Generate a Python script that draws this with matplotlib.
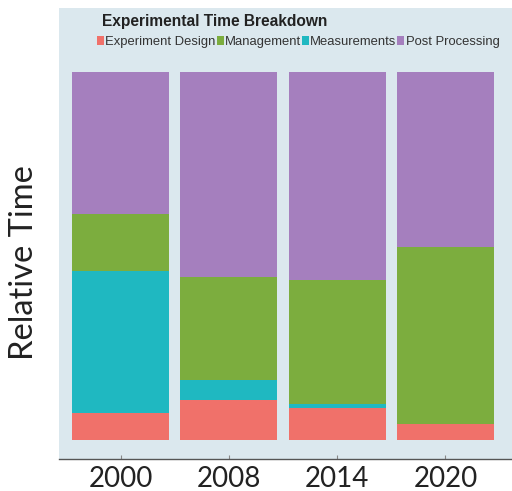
import numpy as np
import matplotlib
matplotlib.use("Agg")
from matplotlib import pyplot as plt

# Share of total experiment time per activity, stacked bottom -> top.
YEARS = ["2000", "2008", "2014", "2020"]
DESIGN = [0.074, 0.109, 0.086, 0.044]
MEASURE = [0.384, 0.054, 0.012, 0.0]
MANAGE = [0.155, 0.280, 0.338, 0.480]
POST = [0.387, 0.557, 0.564, 0.476]

SERIES = [
    ("Experiment Design", DESIGN, "#f0716a"),
    ("Measurements", MEASURE, "#1fb8c1"),
    ("Management", MANAGE, "#7cad3e"),
    ("Post Processing", POST, "#a57fbe"),
]
LEGEND_ORDER = ["Experiment Design", "Management", "Measurements", "Post Processing"]
PANEL = "#dbe8ee"

fig = plt.figure(figsize=(5.12, 4.91), dpi=100)
W, H = 512, 491
# axes spans the shaded panel: x 59..512 px, y 8..459 px
AX_W, AX_H = 512 - 59, 459 - 8
ax = fig.add_axes([59 / W, (H - 459) / H, AX_W / W, AX_H / H])
ax.set_facecolor(PANEL)

x = np.arange(len(YEARS))
bottom = np.zeros(len(YEARS))
handles = {}
for name, vals, col in SERIES:
    b = ax.bar(x, vals, 0.895, bottom=bottom, color=col, label=name, zorder=2)
    handles[name] = b
    bottom += np.array(vals)

ax.set_xlim(-0.568, 3.615)
ax.set_ylim(-0.0516, 1.174)
ax.set_xticks(x, YEARS)
ax.set_yticks([])
ax.tick_params(axis="x", direction="in", length=3, color="#888888",
               labelsize=20, pad=5, labelcolor="#222222")
for lbl in ax.get_xticklabels():
    lbl.set_fontfamily("Lato")
for s in ("top", "right", "left"):
    ax.spines[s].set_visible(False)
ax.spines["bottom"].set_color("#555555")
ax.spines["bottom"].set_linewidth(1.0)

ax.set_ylabel("Relative Time", fontsize=23.5, family="Lato", color="#222222",
              va="center", ha="center")
ax.yaxis.set_label_coords((24 - 59) / AX_W, 1 - (263 - 8) / AX_H)

ax.text((102 - 59) / AX_W, 1 - (22 - 8) / AX_H, "Experimental Time Breakdown",
        transform=ax.transAxes, fontsize=11.2, fontweight="bold",
        family="Liberation Sans", color="#222222", va="center", ha="left")

leg = ax.legend([handles[n] for n in LEGEND_ORDER], LEGEND_ORDER,
                ncol=4, loc="center left",
                bbox_to_anchor=((97 - 59) / AX_W, 1 - (42 - 8) / AX_H),
                frameon=False, handlelength=0.55, handleheight=0.7, handletextpad=0.1,
                columnspacing=0.05, borderaxespad=0, borderpad=0,
                prop={"family": "Liberation Sans", "size": 9.4})
for t in leg.get_texts():
    t.set_color("#333333")

fig.savefig("out.png", dpi=100)
